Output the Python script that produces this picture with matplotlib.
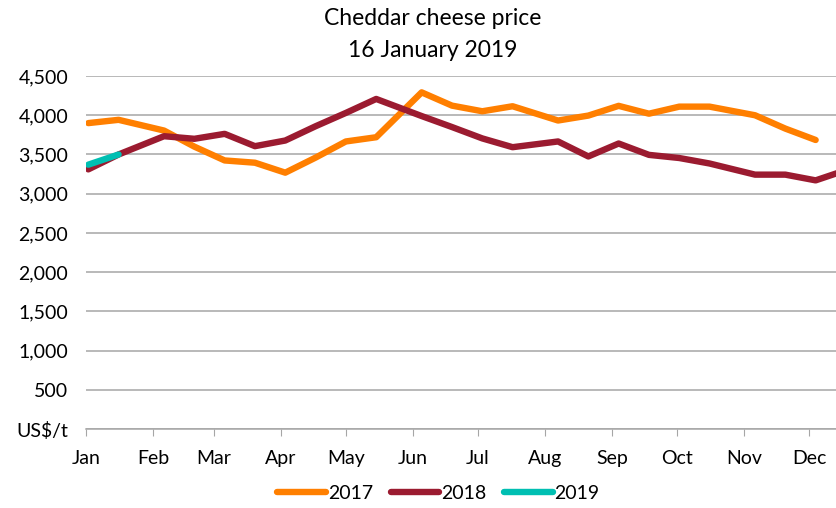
import matplotlib.pyplot as plt
import pandas as pd

# GDT auction dates (shown on a common Jan-Dec axis)
dates = ['01-02', '01-16', '02-06', '02-20', '03-06', '03-20', '04-03', '04-17',
         '05-01', '05-15', '06-05', '06-19', '07-03', '07-17', '08-07', '08-21',
         '09-04', '09-18', '10-02', '10-16', '11-06', '11-20', '12-04', '12-18']

price_2017 = [3900, 3942, 3805, 3600, 3424, 3395, 3268, 3460, 3666, 3720, 4292, 4123,
              4051, 4115, 3933, 3996, 4120, 4020, 4110, 4110, 4000, 3830, 3685]
price_2018 = [3310, 3500, 3733, 3700, 3763, 3606, 3678, 3860, 4030, 4208, 3990, 3850,
              3705, 3593, 3666, 3475, 3640, 3495, 3455, 3385, 3243, 3243, 3170, 3300]
price_2019 = [3370, 3500]

months = ['Jan', 'Feb', 'Mar', 'Apr', 'May', 'Jun', 'Jul', 'Aug', 'Sep', 'Oct', 'Nov', 'Dec']
yticks = [0, 500, 1000, 1500, 2000, 2500, 3000, 3500, 4000, 4500]
ylabels = ['US$/t', '500', '1,000', '1,500', '2,000', '2,500', '3,000', '3,500', '4,000', '4,500']

plt.rcParams['font.family'] = ['Lato', 'DejaVu Sans']

x = pd.to_datetime(['2018-' + d for d in dates])

fig = plt.figure(figsize=(8.36, 5.08), dpi=100)
ax = fig.add_axes([0.103, 0.1555, 0.897, 0.6948])

ax.plot(x[:len(price_2017)], price_2017, color='#FF7F00', lw=4.6, label='2017',
        solid_capstyle='round', solid_joinstyle='round')
ax.plot(x[:len(price_2018)], price_2018, color='#9B1B30', lw=4.6, label='2018',
        solid_capstyle='round', solid_joinstyle='round')
ax.plot(x[:len(price_2019)], price_2019, color='#00BFB2', lw=4.6, label='2019',
        solid_capstyle='round', solid_joinstyle='round')

start = pd.Timestamp('2018-01-01')
ax.set_xlim(start, start + pd.Timedelta(days=346.4))
ax.set_ylim(0, 4500)

month_starts = pd.date_range('2018-01-01', periods=12, freq='MS')
ax.set_xticks(month_starts)
ax.set_xticklabels(months)
ax.set_yticks(yticks)
ax.set_yticklabels(ylabels)

ax.grid(axis='y', color='#A6A6A6', lw=1.1)
ax.set_axisbelow(True)
for s in ['top', 'right', 'left']:
    ax.spines[s].set_visible(False)
ax.spines['bottom'].set_color('#A6A6A6')
ax.spines['bottom'].set_linewidth(1.1)

ax.tick_params(axis='y', length=0, pad=13, labelsize=14)
ax.tick_params(axis='x', length=5, color='#A6A6A6', direction='out', pad=10, labelsize=14)

fig.text(0.517, 0.964, 'Cheddar cheese price', fontsize=16.5, ha='center', va='center')
fig.text(0.517, 0.901, '16 January 2019', fontsize=16.5, ha='center', va='center')

ax.legend(loc='center', bbox_to_anchor=(0.47, -0.183), ncol=3, frameon=False,
          fontsize=14, handlelength=2.5, handletextpad=0.1, columnspacing=0.9)

fig.savefig('out.png', dpi=100)
